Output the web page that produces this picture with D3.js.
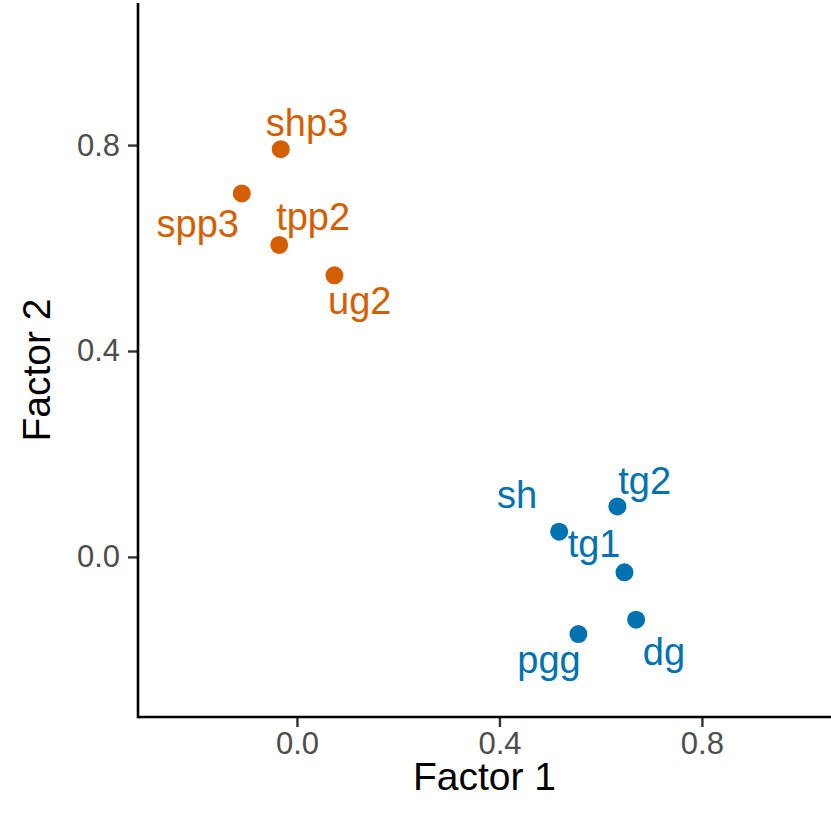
<!DOCTYPE html>
<html>
<head>
<meta charset="utf-8">
<script src="https://cdn.jsdelivr.net/npm/d3@7"></script>
<style>
  html, body { margin: 0; padding: 0; background: #fff; }
  svg text { font-family: "Liberation Sans", Arial, sans-serif; }
</style>
</head>
<body>
<svg id="chart" width="831" height="818"></svg>
<script>
// ---- data ----
const names   = ["shp3", "spp3", "tpp2", "ug2", "sh", "tg2", "tg1", "dg", "pgg"];
const groups  = ["A", "A", "A", "A", "B", "B", "B", "B", "B"];
const factor1 = [-0.032, -0.109, -0.035, 0.074, 0.518, 0.633, 0.647, 0.670, 0.556];
const factor2 = [0.792, 0.706, 0.606, 0.547, 0.049, 0.098, -0.030, -0.122, -0.150];
// label anchor positions (data units, repelled labels)
const labelF1 = [0.020, -0.196, 0.032, 0.124, 0.435, 0.687, 0.587, 0.725, 0.498];
const labelF2 = [0.817, 0.621, 0.635, 0.472, 0.095, 0.122, 0.000, -0.210, -0.225];
const xTicks = [0.0, 0.4, 0.8];
const yTicks = [0.0, 0.4, 0.8];
const groupColors = { A: "#D55E00", B: "#0072B2" };

// ---- layout ----
const mLeft = 138, mRight = 831, mTop = 3, mBottom = 717;
const svg = d3.select("#chart");

const x = d3.scaleLinear().domain([-0.314, 1.055]).range([mLeft, mRight]);
const y = d3.scaleLinear().domain([-0.311, 1.076]).range([mBottom, mTop]);

const fmt = d3.format(".1f");

// x axis
const gx = svg.append("g").attr("transform", `translate(0,${mBottom})`)
  .call(d3.axisBottom(x).tickValues(xTicks).tickFormat(fmt).tickSize(10).tickPadding(5));
gx.select(".domain").remove();
gx.selectAll(".tick line").attr("stroke", "#333").attr("stroke-width", 2.4);
gx.selectAll(".tick text").attr("fill", "#4D4D4D").attr("font-size", 31)
  .attr("font-family", "Liberation Sans, Arial, sans-serif");

// y axis
const gy = svg.append("g").attr("transform", `translate(${mLeft},0)`)
  .call(d3.axisLeft(y).tickValues(yTicks).tickFormat(fmt).tickSize(10).tickPadding(8));
gy.select(".domain").remove();
gy.selectAll(".tick line").attr("stroke", "#333").attr("stroke-width", 2.4);
gy.selectAll(".tick text").attr("fill", "#4D4D4D").attr("font-size", 31)
  .attr("font-family", "Liberation Sans, Arial, sans-serif");

// axis lines
svg.append("line").attr("x1", mLeft).attr("x2", mRight).attr("y1", mBottom).attr("y2", mBottom)
  .attr("stroke", "#000").attr("stroke-width", 2.6);
svg.append("line").attr("x1", mLeft).attr("x2", mLeft).attr("y1", mTop).attr("y2", mBottom + 1.3)
  .attr("stroke", "#000").attr("stroke-width", 2.6);

// axis titles
svg.append("text").attr("x", (mLeft + mRight) / 2).attr("y", 790)
  .attr("text-anchor", "middle").attr("font-size", 39).attr("fill", "#000").text("Factor 1");
svg.append("text").attr("transform", `translate(50,${(mTop + mBottom) / 2 + 10}) rotate(-90)`)
  .attr("text-anchor", "middle").attr("font-size", 39).attr("fill", "#000").text("Factor 2");

const data = names.map((n, i) => ({
  name: n, group: groups[i], f1: factor1[i], f2: factor2[i], l1: labelF1[i], l2: labelF2[i]
}));

// points
svg.append("g").selectAll("circle").data(data).join("circle")
  .attr("cx", d => x(d.f1)).attr("cy", d => y(d.f2)).attr("r", 9)
  .attr("fill", d => groupColors[d.group]);

// labels
svg.append("g").selectAll("text").data(data).join("text")
  .attr("x", d => x(d.l1)).attr("y", d => y(d.l2))
  .attr("text-anchor", "middle").attr("font-size", 38)
  .attr("fill", d => groupColors[d.group]).text(d => d.name);
</script>
</body>
</html>
